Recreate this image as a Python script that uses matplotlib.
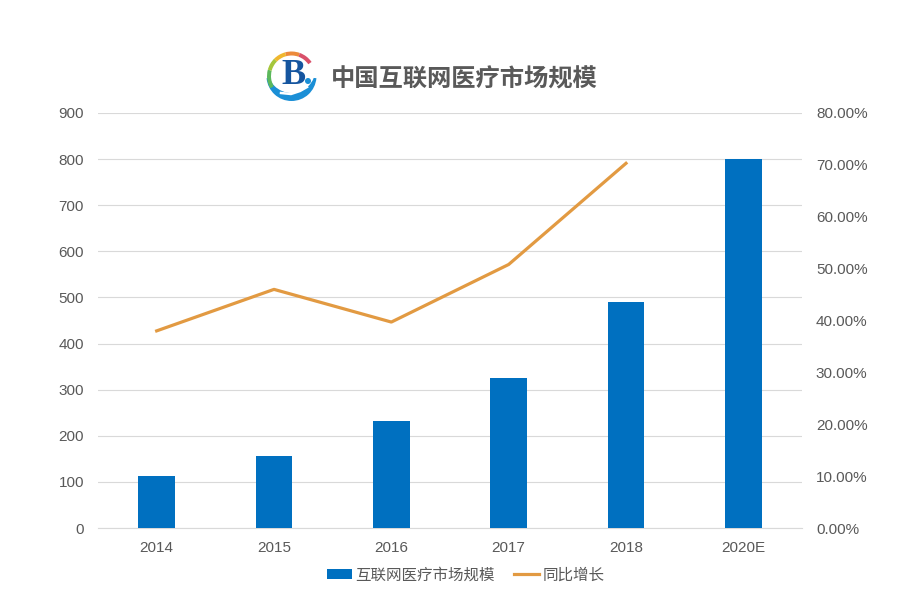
import matplotlib
matplotlib.use('Agg')
import matplotlib.pyplot as plt
from matplotlib.patches import Wedge, Circle

plt.rcParams['font.family'] = ['Liberation Sans', 'Noto Sans CJK SC', 'DejaVu Sans']

years = ['2014', '2015', '2016', '2017', '2018', '2020E']
market_size = [113, 156, 232, 325, 490, 800]
growth = [38.0, 46.0, 39.7, 50.8, 70.3]
left_ticks = [0, 100, 200, 300, 400, 500, 600, 700, 800, 900]
right_ticks = [0, 10, 20, 30, 40, 50, 60, 70, 80]

W, H = 918, 616
fig = plt.figure(figsize=(W / 100, H / 100), dpi=100, facecolor='white')
ax = fig.add_axes([98 / W, 1 - 528 / H, 704 / W, 415 / H])

x = list(range(len(years)))
bars = ax.bar(x, market_size, width=0.315, color='#0070c0', label='互联网医疗市场规模', zorder=3)
ax.set_xlim(-0.5, 5.5)
ax.set_ylim(0, 900)
ax.set_xticks(x)
ax.set_xticklabels(years)
ax.set_yticks(left_ticks)
ax.grid(axis='y', color='#d9d9d9', linewidth=0.8, zorder=0)
ax.tick_params(length=0, labelsize=11, labelcolor='#595959')
ax.tick_params(axis='x', pad=9)
ax.tick_params(axis='y', pad=10)
for s in ['top', 'left', 'right']:
    ax.spines[s].set_visible(False)
ax.spines['bottom'].set_color('#d9d9d9')

ax2 = ax.twinx()
line, = ax2.plot(x[:len(growth)], growth, color='#e29a42', linewidth=2.3, label='同比增长', zorder=4)
ax2.set_ylim(0, 80)
ax2.set_yticks(right_ticks)
ax2.set_yticklabels(['%.2f%%' % t for t in right_ticks])
ax2.tick_params(length=0, labelsize=11, labelcolor='#595959', pad=10)
for s in ax2.spines.values():
    s.set_visible(False)

fig.legend(handles=[bars, line], loc='center', bbox_to_anchor=(465.5 / W, 1 - 575 / H), ncol=2,
           frameon=False, fontsize=11.2, labelcolor='#595959', handlelength=1.65,
           handleheight=0.55, columnspacing=1.2, handletextpad=0.2)

fig.text(331 / W, 1 - 80 / H, '中国互联网医疗市场规模', fontsize=17.5, fontweight='bold',
         color='#595959', ha='left', va='center')

# logo, y runs downward here so angles go clockwise on screen
logo = fig.add_axes([262 / W, 1 - 106 / H, 60 / W, 60 / H])
logo.set_xlim(262, 322)
logo.set_ylim(106, 46)
logo.axis('off')
c = (291.5, 76)
logo.add_patch(Wedge(c, 25, 5, 175, color='#1b8fd6', lw=0))
logo.add_patch(Circle((291.5, 69), 24, color='white', lw=0))
for t1, t2, col in [(150, 195, '#5cb85c'), (195, 225, '#a5c63b'), (225, 255, '#f0b72e'),
                    (255, 290, '#ec8a3a'), (290, 325, '#d9506a')]:
    logo.add_patch(Wedge(c, 24.5, t1, t2, width=4, color=col, lw=0))
logo.plot([281, 291, 300, 307], [93, 94, 91, 87], color='white', linewidth=1.8)
logo.add_patch(Circle((308, 81), 3, color='#1b8fd6', lw=0))
logo.text(293, 76, 'B', fontsize=26, fontweight='bold', family='Liberation Serif',
          color='#15559f', ha='center', va='center')

fig.savefig('out.png', dpi=100)
